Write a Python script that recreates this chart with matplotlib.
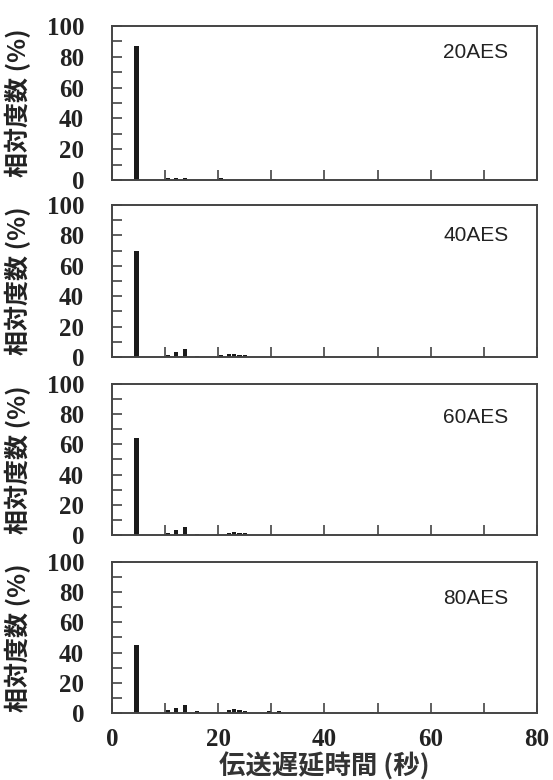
import numpy as np
import matplotlib.pyplot as plt

plt.rcParams['font.family'] = ['Noto Sans CJK JP', 'DejaVu Sans']

# data (delay in seconds, relative frequency in %)
labels = ['20AES', '40AES', '60AES', '80AES']

delay_20 = [4.6, 10.5, 12.0, 13.8, 20.5, 30.5]
freq_20 = [87, 1.5, 1.0, 1.5, 1.0, 0.5]

delay_40 = [4.6, 10.5, 12.0, 13.8, 16.0, 20.5, 22.0, 23.0, 24.0, 25.0]
freq_40 = [70, 1.0, 3.0, 5.0, 0.5, 1.0, 2.0, 2.0, 1.5, 1.0]

delay_60 = [4.6, 10.5, 12.0, 13.8, 16.0, 22.0, 23.0, 24.0, 25.0]
freq_60 = [64, 1.5, 3.0, 5.0, 0.5, 1.5, 2.0, 1.5, 1.0]

delay_80 = [4.6, 10.5, 12.0, 13.8, 16.0, 22.0, 23.0, 24.0, 25.0, 29.5, 31.5, 49.0]
freq_80 = [45, 2.0, 3.5, 5.0, 1.0, 2.0, 2.5, 2.0, 1.5, 1.0, 1.5, 0.5]

delays = [delay_20, delay_40, delay_60, delay_80]
freqs = [freq_20, freq_40, freq_60, freq_80]

fig = plt.figure(figsize=(5.53, 7.8), dpi=100)

# [bottom, height] of each panel in figure coords
boxes = [(0.7692, 0.1974), (0.5423, 0.1950), (0.3141, 0.1936), (0.0859, 0.1936)]
text_y = [0.79, 0.76, 0.74, 0.72]

for i in range(4):
    ax = fig.add_axes([0.2025, boxes[i][0], 0.7685, boxes[i][1]])
    ax.bar(delays[i], freqs[i], width=0.8, color='#1a1a1a')
    ax.set_xlim(0, 80)
    ax.set_ylim(0, 100)

    ax.set_yticks(np.arange(0, 101, 20))
    ax.set_yticks(np.arange(10, 100, 20), minor=True)
    ax.set_xticks(np.arange(0, 81, 20))
    ax.set_xticks(np.arange(10, 80, 20), minor=True)
    ax.tick_params(which='both', direction='in', length=7, width=1.2, color='#444444')
    ax.tick_params(axis='y', which='major', pad=20)
    ax.tick_params(axis='x', which='major', pad=11)
    for t in ax.get_yticklabels():
        t.set_family('Liberation Serif')
        t.set_weight('bold')
        t.set_size(18)
        t.set_color('#222222')
    if i < 3:
        ax.set_xticklabels([])
    else:
        ax.set_xticklabels([str(v) for v in range(0, 81, 20)])
        for t in ax.get_xticklabels():
            t.set_family('Liberation Serif')
            t.set_weight('bold')
            t.set_size(18)
            t.set_color('#222222')
        ax.set_xlabel('伝送遅延時間 (秒)', fontsize=19, fontweight='bold', color='#333333')
        ax.xaxis.set_label_coords(0.5, -0.26)

    for s in ax.spines.values():
        s.set_linewidth(1.4)
        s.set_color('#444444')

    ax.set_ylabel('相対度数 (%)', fontsize=18, fontweight='bold', color='#222222')
    ax.yaxis.set_label_coords(-0.19, 0.5)

    ax.text(0.78, text_y[i], labels[i], transform=ax.transAxes,
            fontsize=15, family='Liberation Sans', color='#222222')

fig.savefig('out.png', dpi=100)
